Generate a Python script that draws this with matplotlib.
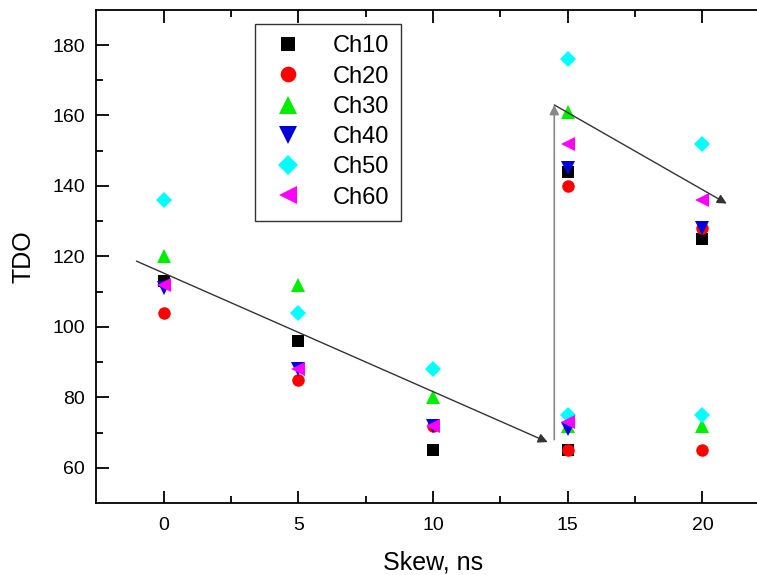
import numpy as np
import matplotlib.pyplot as plt

# skew values; at 15 and 20 ns there are two groups of readings
skew = [0, 5, 10, 15, 15, 20, 20]
ch10 = [113, 96, 65, 144, 65, 125, np.nan]
ch20 = [104, 85, 72, 140, 65, 128, 65]
ch30 = [120, 112, 80, 161, 72, np.nan, 72]
ch40 = [111, 88, 72, 145, 71, 128, np.nan]
ch50 = [136, 104, 88, 176, 75, 152, 75]
ch60 = [112, 88, 72, 152, 73, 136, np.nan]

series = [
    ("Ch10", ch10, "s", "black", 8),
    ("Ch20", ch20, "o", "red", 9),
    ("Ch30", ch30, "^", "#00ee00", 10),
    ("Ch40", ch40, "v", "#0000dd", 10),
    ("Ch50", ch50, "D", "cyan", 8.5),
    ("Ch60", ch60, "<", "magenta", 10),
]

plt.rcParams['font.family'] = ['Liberation Sans', 'DejaVu Sans']

fig = plt.figure(figsize=(7.57, 5.75), dpi=100)
ax = fig.add_axes([0.127, 0.125, 0.89, 0.858])

for name, vals, m, c, ms in series:
    ax.plot(skew, vals, linestyle="none", marker=m, color=c, markersize=ms,
            markeredgewidth=0, label=name)

# trend arrows
ax.annotate("", xy=(14.35, 67), xytext=(-1.1, 119),
            arrowprops=dict(arrowstyle="-|>", color="#333333", lw=1, mutation_scale=14))
ax.annotate("", xy=(14.5, 163), xytext=(14.5, 68),
            arrowprops=dict(arrowstyle="-|>", color="#888888", lw=1.2, mutation_scale=14, shrinkA=0, shrinkB=0))
ax.annotate("", xy=(20.9, 135), xytext=(14.5, 163),
            arrowprops=dict(arrowstyle="-|>", color="#333333", lw=1, mutation_scale=14, shrinkA=0, shrinkB=0))

ax.set_xlim(-2.5, 22.5)
ax.set_ylim(50, 190)
ax.set_xticks([0, 5, 10, 15, 20])
ax.set_xticks([2.5, 7.5, 12.5, 17.5], minor=True)
ax.set_yticks([60, 80, 100, 120, 140, 160, 180])
ax.set_yticks([70, 90, 110, 130, 150, 170], minor=True)
ax.tick_params(which="both", direction="in", top=True, right=True, labelsize=14, width=1.3)
ax.tick_params(axis="x", pad=10)
ax.tick_params(axis="y", pad=8)
ax.tick_params(which="major", length=9)
ax.tick_params(which="minor", length=5)
for s in ax.spines.values():
    s.set_linewidth(1.3)

ax.set_xlabel("Skew, ns", fontsize=18, labelpad=12)
ax.set_ylabel("TDO", fontsize=18, labelpad=12)

leg = ax.legend(loc="upper left", bbox_to_anchor=(0.236, 0.972), borderaxespad=0,
                fontsize=17, frameon=True, fancybox=False, edgecolor="black",
                handletextpad=1.0, borderpad=0.5, labelspacing=0.35, handlelength=1.8,
                markerscale=1.25)
leg.get_frame().set_linewidth(1)

fig.savefig("out.png", dpi=100)
